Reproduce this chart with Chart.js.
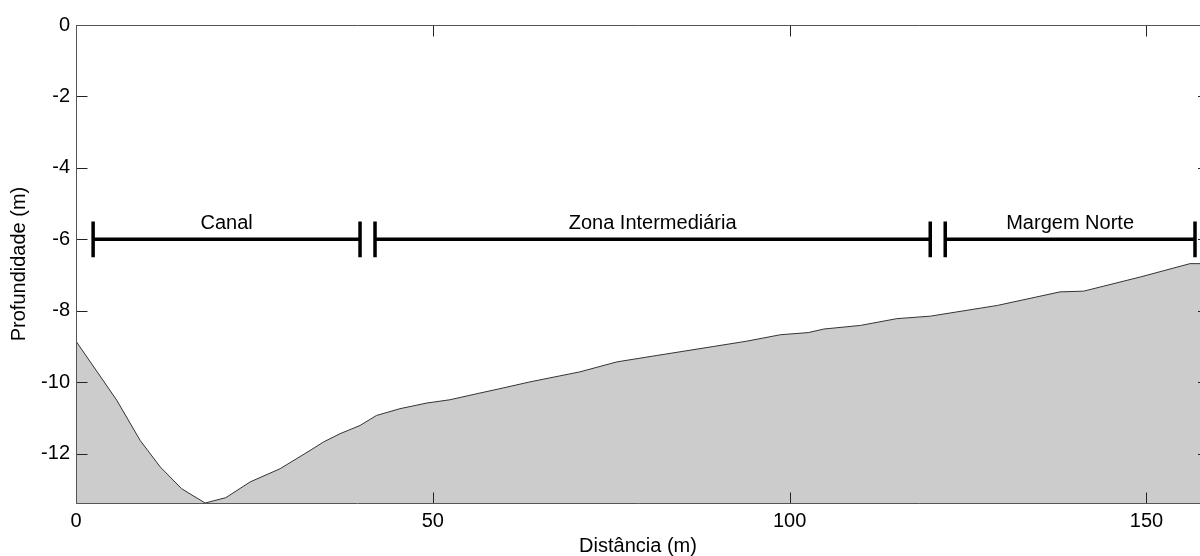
<!DOCTYPE html>
<html>
<head>
<meta charset="utf-8">
<script src="https://cdn.jsdelivr.net/npm/chart.js@4/dist/chart.umd.min.js"></script>
<style>
  html, body { margin: 0; padding: 0; background: #fff; }
  canvas { display: block; }
</style>
</head>
<body>
<canvas id="profileChart" width="1200" height="556"></canvas>
<script>
    'use strict';

    // bed profile (distance in m, depth in m)
    const distance = [0, 5.7, 9.0, 11.8, 14.8, 18.1, 21.0, 24.4, 28.6, 32.8, 34.7, 37.0, 39.8, 42.1,
        45.4, 49.2, 52.4, 56.2, 59.4, 63.6, 70.6, 75.8, 81.4, 89.3, 94.0, 98.7, 102.6, 104.8,
        109.9, 115.0, 119.7, 129.1, 137.9, 141.2, 149.2, 156.1, 157.5];
    const depth = [-8.85, -10.5, -11.63, -12.37, -12.98, -13.38, -13.23, -12.79, -12.42, -11.91, -11.67,
        -11.44, -11.21, -10.93, -10.74, -10.58, -10.49, -10.32, -10.18, -9.99, -9.71, -9.43, -9.25,
        -9.0, -8.85, -8.67, -8.61, -8.51, -8.41, -8.22, -8.15, -7.85, -7.47, -7.45, -7.05, -6.68, -6.68];

    // zones marked above the profile
    const zoneNames = ['Canal', 'Zona Intermediária', 'Margem Norte'];
    const zoneStart = [2.4, 41.9, 121.8];
    const zoneEnd = [39.8, 119.7, 156.8];
    const zoneDepth = -6;
    const capHalf = 0.5;

    const xTickValues = [0, 50, 100, 150];
    const yTickValues = [0, -2, -4, -6, -8, -10, -12];

    const FONT = 'Arial, "Liberation Sans", Helvetica, sans-serif';

    const profilePoints = distance.map((d, i) => ({ x: d, y: depth[i] }));

    // one dataset per zone: horizontal bar plus the two end caps, separated by gaps
    const zoneDatasets = zoneNames.map((name, i) => ({
        label: name,
        data: [
            { x: zoneStart[i], y: zoneDepth + capHalf }, { x: zoneStart[i], y: zoneDepth - capHalf },
            { x: null, y: null },
            { x: zoneStart[i], y: zoneDepth }, { x: zoneEnd[i], y: zoneDepth },
            { x: null, y: null },
            { x: zoneEnd[i], y: zoneDepth + capHalf }, { x: zoneEnd[i], y: zoneDepth - capHalf }
        ],
        borderColor: '#000',
        borderWidth: 3.5,
        borderCapStyle: 'butt',
        pointRadius: 0,
        fill: false,
        spanGaps: false,
        clip: false
    }));

    const boxAndTicksPlugin = {
        id: 'boxAndTicks',
        afterDatasetsDraw(chart) {
            const ctx = chart.ctx;
            const area = chart.chartArea;
            const xs = chart.scales.x;
            const ys = chart.scales.y;
            const len = 11;
            const left = Math.round(area.left) + 0.5;
            const top = Math.round(area.top) + 0.5;
            const bottom = Math.round(area.bottom) + 0.5;
            ctx.save();
            ctx.strokeStyle = '#222';
            ctx.lineWidth = 1;
            ctx.beginPath();
            xTickValues.forEach((v) => {
                const px = Math.round(xs.getPixelForValue(v)) + 0.5;
                ctx.moveTo(px, bottom); ctx.lineTo(px, bottom - len);
                ctx.moveTo(px, top); ctx.lineTo(px, top + len);
            });
            // right box edge sits just past the picture: only tick stubs show
            yTickValues.forEach((v) => {
                const py = Math.round(ys.getPixelForValue(v)) + 0.5;
                ctx.moveTo(left, py); ctx.lineTo(left + len, py);
                ctx.moveTo(area.right, py); ctx.lineTo(area.right - 2, py);
            });
            ctx.stroke();
            ctx.strokeStyle = '#555';
            ctx.beginPath();
            ctx.moveTo(area.right, top); ctx.lineTo(left, top);
            ctx.lineTo(left, bottom); ctx.lineTo(area.right, bottom);
            ctx.stroke();

            // zone names
            ctx.fillStyle = '#000';
            ctx.font = '20px ' + FONT;
            ctx.textAlign = 'center';
            ctx.textBaseline = 'alphabetic';
            const lineY = ys.getPixelForValue(zoneDepth);
            zoneNames.forEach((name, i) => {
                const cx = (xs.getPixelForValue(zoneStart[i]) + xs.getPixelForValue(zoneEnd[i])) / 2;
                ctx.fillText(name, cx, lineY - 10);
            });
            ctx.restore();
        }
    };

    new Chart(document.getElementById('profileChart'), {
        type: 'line',
        plugins: [boxAndTicksPlugin],
        data: {
            datasets: [{
                label: 'Perfil',
                data: profilePoints,
                borderColor: '#333',
                borderWidth: 1,
                backgroundColor: '#cccccc',
                fill: 'start',
                pointRadius: 0,
                tension: 0
            }].concat(zoneDatasets)
        },
        options: {
            responsive: false,
            animation: false,
            devicePixelRatio: 1,
            parsing: false,
            layout: { padding: { top: 25, right: 0, left: 0, bottom: 0 } },
            plugins: {
                legend: { display: false },
                tooltip: { enabled: false }
            },
            scales: {
                x: {
                    type: 'linear',
                    min: 0,
                    max: 157.5,
                    grid: { display: false, drawTicks: false },
                    border: { display: false },
                    afterBuildTicks(scale) {
                        scale.ticks = xTickValues.map((v) => ({ value: v }));
                    },
                    afterFit(scale) { scale.height = 53; },
                    ticks: {
                        color: '#000',
                        font: { family: FONT, size: 20 },
                        padding: 6,
                        maxRotation: 0
                    },
                    title: {
                        display: true,
                        text: 'Distância (m)',
                        color: '#000',
                        font: { family: FONT, size: 20, lineHeight: 1 },
                        padding: { top: 0, bottom: 0 }
                    }
                },
                y: {
                    type: 'linear',
                    min: -13.38,
                    max: 0,
                    grid: { display: false, drawTicks: false },
                    border: { display: false },
                    afterBuildTicks(scale) {
                        scale.ticks = yTickValues.map((v) => ({ value: v }));
                    },
                    afterFit(scale) { scale.width = 76; },
                    ticks: {
                        color: '#000',
                        font: { family: FONT, size: 20 },
                        padding: 6
                    },
                    title: {
                        display: true,
                        text: 'Profundidade (m)',
                        color: '#000',
                        font: { family: FONT, size: 20, lineHeight: 1.2 },
                        padding: { top: 7, bottom: 0 }
                    }
                }
            }
        }
    });
</script>
</body>
</html>
